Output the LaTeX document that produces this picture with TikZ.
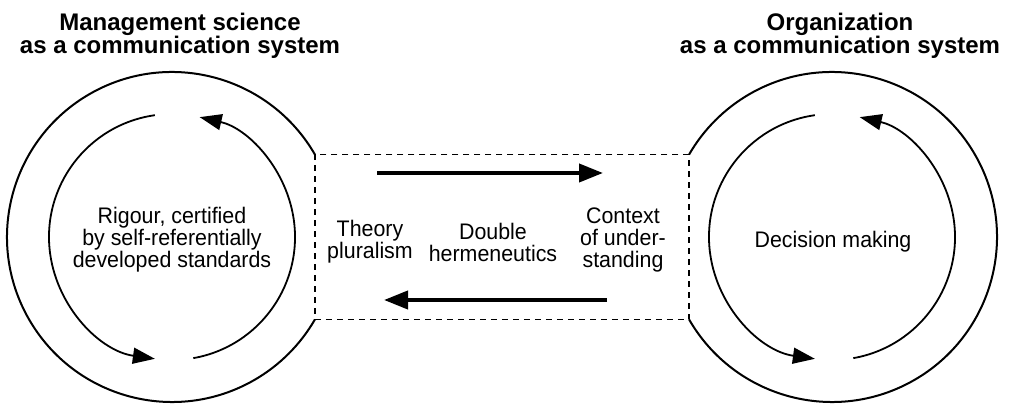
\documentclass[tikz,border=0pt]{standalone}
\usepackage{fontspec}
\setmainfont{Liberation Sans}
\newfontfamily\narrowfont{Liberation Sans}[FakeStretch=0.95]
\usetikzlibrary{arrows.meta,calc}

\begin{document}
\begin{tikzpicture}[x=1pt,y=1pt,
  ring/.style={line width=2pt},
  loop/.style={line width=1.8pt,-{Triangle[length=22pt,width=16pt]}},
  flow/.style={line width=4pt,-{Triangle[length=24pt,width=18pt]}},
  label/.style={align=center,inner sep=0pt,font=\narrowfont\fontsize{22.5}{22}\selectfont},
  heading/.style={align=center,inner sep=0pt,font=\fontsize{24}{23.5}\selectfont\bfseries}]
\useasboundingbox (0,0) rectangle (1010,404);
\coordinate (L) at (172,167);
\coordinate (R) at (832,167);
% outer rings, open towards the box
\coordinate (tl) at ($(L)+(30:165)$);
\coordinate (bl) at ($(L)+(-30:165)$);
\coordinate (tr) at ($(R)+(150:165)$);
\coordinate (br) at ($(R)+(210:165)$);
\draw[ring] (tl) arc[start angle=30,end angle=330,radius=165];
\draw[ring] (br) arc[start angle=210,end angle=510,radius=165];
\draw[ring,line width=1.8pt,dash pattern=on 6pt off 5pt] (tl) rectangle (br);
% inner loops
\draw[loop] ($(L)+(98:123)$) arc[start angle=98,end angle=262,radius=123];
\draw[loop] ($(L)+(-80:123)$) arc[start angle=-80,end angle=77,radius=123];
\draw[loop] ($(R)+(98:123)$) arc[start angle=98,end angle=262,radius=123];
\draw[loop] ($(R)+(-80:123)$) arc[start angle=-80,end angle=77,radius=123];
% exchange between the systems
\coordinate (f1) at (377,231);
\coordinate (f2) at (603,231);
\coordinate (b1) at (607,104);
\coordinate (b2) at (384,104);
\draw[flow] (f1) -- (f2);
\draw[flow] (b1) -- (b2);
% texts
\node[heading] (msci) at (180,368) {Management science\\as a communication system};
\node[heading] (org) at (840,368) {Organization\\as a communication system};
\node[label] (rigour) at (172,164) {Rigour, certified\\by self-referentially\\developed standards};
\node[label] (decision) at (833,162) {Decision making};
\node[label] (theory) at (370,162) {Theory\\pluralism};
\node[label] (double) at (493,162) {Double\\hermeneutics};
\node[label] (context) at (623,164) {Context\\of under-\\standing};
\end{tikzpicture}
\end{document}
